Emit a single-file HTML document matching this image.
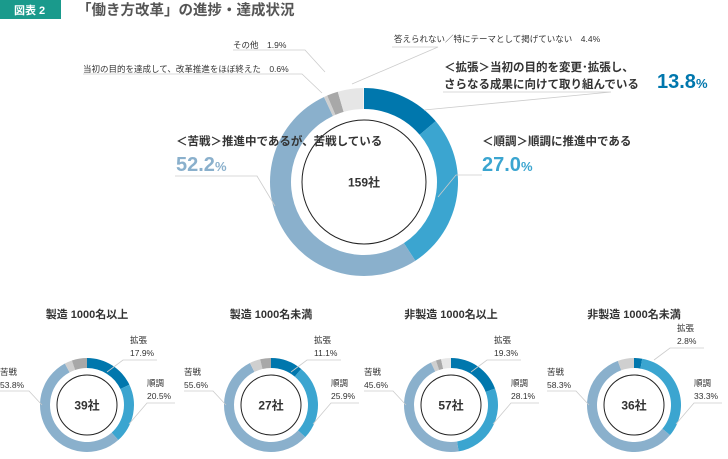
<!DOCTYPE html>
<html><head><meta charset="utf-8"><style>
body{margin:0;background:#fff;font-family:"Liberation Sans","Noto Sans CJK JP",sans-serif;}
svg text{font-family:"Liberation Sans","Noto Sans CJK JP",sans-serif;fill:#333}
</style></head><body>
<svg width="728" height="454" viewBox="0 0 728 454">
<rect x="0" y="0" width="61" height="19" fill="#1a9a8c"/>
<text x="14" y="14" font-size="11" style="fill:#fff" font-weight="bold">図表 2</text>
<text x="77" y="15" font-size="14.5" font-weight="bold" style="fill:#555">「働き方改革」の進捗・達成状況</text>
<g id="main"></g>
<g id="smalls"></g>
<!-- main labels -->
<g stroke="#ccc" stroke-width="0.8" fill="none">
<polyline points="233,50 305,50 325,72"/>
<polyline points="83,74 302,74 322,93"/>
<polyline points="392,47 438,47 352,84"/>
<polyline points="443,92 611,92 424,110"/>
<polyline points="482,175 456,175 438,197"/>
<polyline points="175,176 257,176 275,206"/>
</g>
<text x="233" y="48" font-size="8.5">その他　1.9%</text>
<text x="83" y="72" font-size="8.5">当初の目的を達成して、改革推進をほぼ終えた　0.6%</text>
<text x="394" y="42" font-size="8.5">答えられない／特にテーマとして掲げていない　4.4%</text>
<text x="444" y="71" font-size="11.5" font-weight="bold">＜拡張＞当初の目的を変更･拡張し、</text>
<text x="444" y="88" font-size="11.5" font-weight="bold">さらなる成果に向けて取り組んでいる</text>
<text x="657" y="88" font-size="20" font-weight="bold" style="fill:#0077ad">13.8<tspan font-size="13">%</tspan></text>
<text x="482" y="145" font-size="11.5" font-weight="bold">＜順調＞順調に推進中である</text>
<text x="482" y="171" font-size="20" font-weight="bold" style="fill:#3ba5d0">27.0<tspan font-size="13">%</tspan></text>
<text x="176" y="145" font-size="11.5" font-weight="bold">＜苦戦＞推進中であるが、苦戦している</text>
<text x="176" y="171" font-size="20" font-weight="bold" style="fill:#8ab0cc">52.2<tspan font-size="13">%</tspan></text>
</svg>
<script>
const mainValues=[13.8,27.0,52.2,0.6,1.9,4.4];
const smallTitles=["製造 1000名以上","製造 1000名未満","非製造 1000名以上","非製造 1000名未満"];
const smallCounts=["39社","27社","57社","36社"];
const smallExpand=[17.9,11.1,19.3,2.8];
const smallOnTrack=[20.5,25.9,28.1,33.3];
const smallStruggle=[53.8,55.6,45.6,58.3];
const smallAchieved=[2.6,3.7,1.8,5.6];
const smallOther=[5.2,3.7,1.8,0];
const smallNoAnswer=[0,0,3.4,0];
const colors=["#0077ad","#3ba5d0","#8ab0cc","#cfcfcf","#a8a8a8","#e6e6e6"];
const NS="http://www.w3.org/2000/svg";
function mk(t,a,p){const e=document.createElementNS(NS,t);for(const k in a)e.setAttribute(k,a[k]);p.appendChild(e);return e;}
function pt(cx,cy,r,f){const a=f*2*Math.PI-Math.PI/2;return [cx+r*Math.cos(a),cy+r*Math.sin(a)];}
function donut(g,cx,cy,ro,ri,vals,rc,label,fs){
  const tot=100;let acc=0;
  vals.forEach((v,i)=>{if(v<=0){return;}const f0=acc/tot,f1=(acc+v)/tot;acc+=v;
    const [x0,y0]=pt(cx,cy,ro,f0),[x1,y1]=pt(cx,cy,ro,f1),[x2,y2]=pt(cx,cy,ri,f1),[x3,y3]=pt(cx,cy,ri,f0);
    const lg=(f1-f0)>0.5?1:0;
    const p=mk('path',{d:`M${x0},${y0}A${ro},${ro} 0 ${lg} 1 ${x1},${y1}L${x2},${y2}A${ri},${ri} 0 ${lg} 0 ${x3},${y3}Z`,fill:colors[i]},g);
    
    
  });
  const c=mk('circle',{cx:cx,cy:cy,r:rc,fill:'none',stroke:'#222','stroke-width':1},g);
  
  
  const t=mk('text',{x:cx,y:cy+fs*0.36,'font-size':fs,'font-weight':'bold','text-anchor':'middle'},g);
  t.textContent=label;
  
  
}
donut(document.getElementById('main'),364,182,94,73,mainValues,62,"159社",12);
const sg=document.getElementById('smalls');
const cxs=[87,271,451,634];
smallTitles.forEach((tt,i)=>{
  const cx=cxs[i],cy=405;
  const g=mk('g',{},sg);
  
  
  const ti=mk('text',{x:cx,y:318,'font-size':11,'font-weight':'bold','text-anchor':'middle'},g);
  ti.textContent=tt;
  
  
  donut(g,cx,cy,47,37,[smallExpand[i],smallOnTrack[i],smallStruggle[i],smallAchieved[i],smallOther[i],smallNoAnswer[i]],30,smallCounts[i],12);
  const up=i==3?12:0;
  const labs=[[cx+43,343-up,"拡張"],[cx+43,356-up,smallExpand[i].toFixed(1)+"%"],[cx+60,386,"順調"],[cx+60,399,smallOnTrack[i].toFixed(1)+"%"],[cx-87,375,"苦戦"],[cx-87,388,smallStruggle[i].toFixed(1)+"%"]];
  labs.forEach((l,j)=>{const e=mk('text',{x:l[0]+(j>=4?0:0),y:l[1],'font-size':8.5},g);e.textContent=l[2];
    
    });
  mk('polyline',{points:`${cx+70},${360-up} ${cx+36},${360-up} ${cx+20},${372-up}`,fill:'none',stroke:'#ccc','stroke-width':0.8},g);
  mk('polyline',{points:`${cx+88},${403} ${cx+60},${403} ${cx+42},${424}`,fill:'none',stroke:'#ccc','stroke-width':0.8},g);
  mk('polyline',{points:`${cx-87},${391} ${cx-58},${391} ${cx-45},${405}`,fill:'none',stroke:'#ccc','stroke-width':0.8},g);
});
</script>
</body></html>
